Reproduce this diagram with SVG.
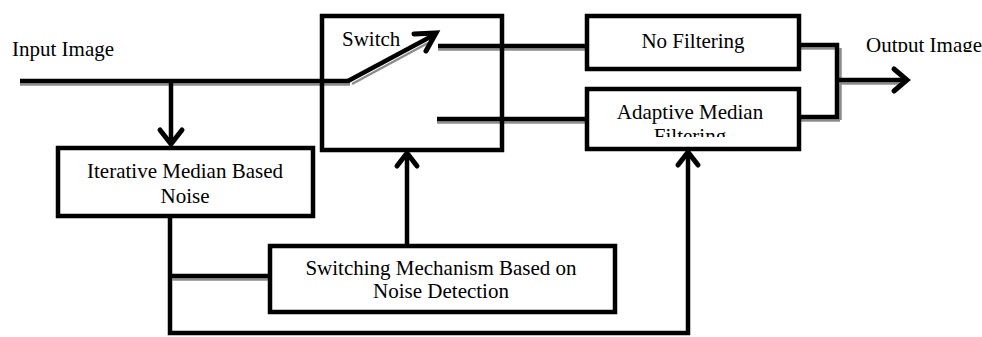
<svg xmlns="http://www.w3.org/2000/svg" width="982" height="337" viewBox="0 0 982 337">
<style>
  .box{fill:#fff;stroke:#000;stroke-width:4.5}
  .t{font-family:"Liberation Serif","Times New Roman",serif;font-size:21px;fill:#000}
  .c{stroke:#000;stroke-width:4.5;fill:none;stroke-linecap:butt}
  .sh{stroke:#8c8c8c;stroke-width:2.5;fill:none}
  .ah{stroke:#000;stroke-width:5;fill:none;stroke-linecap:round;stroke-linejoin:miter}
</style>
<defs>
  <clipPath id="clipAd"><rect x="587" y="90" width="210" height="47"/></clipPath>
  <clipPath id="clipOut"><rect x="860" y="30" width="122" height="22"/></clipPath>
</defs>
<g id="connectors">
  <!-- input line -->
  <line class="sh" x1="20" y1="84.5" x2="350" y2="84.5"/>
  <line class="c" x1="20" y1="81" x2="350" y2="81"/>
  <!-- switch lever -->
  <line class="sh" x1="352" y1="84" x2="428" y2="43"/>
  <line class="c" x1="348" y1="81" x2="432" y2="36"/>
  <polyline class="ah" points="414,34 436,33 426,51"/>
  <!-- down arrow to iterative -->
  <line class="c" x1="171" y1="82" x2="171" y2="144"/>
  <polyline class="ah" points="160,130 171,144 182,130"/>
  <!-- switch outputs -->
  <line class="sh" x1="438" y1="49.5" x2="585" y2="49.5"/>
  <line class="c" x1="438" y1="46" x2="585" y2="46"/>
  <line class="sh" x1="437" y1="122.5" x2="585" y2="122.5"/>
  <line class="c" x1="437" y1="119" x2="585" y2="119"/>
  <!-- outputs merge -->
  <line class="sh" x1="800" y1="48.5" x2="835" y2="48.5"/>
  <line class="sh" x1="800" y1="120.5" x2="840" y2="120.5"/>
  <line class="sh" x1="840.5" y1="48" x2="840.5" y2="120"/>
  <polyline class="c" points="799,45 837,45 837,117 799,117"/>
  <line class="sh" x1="839" y1="83.5" x2="900" y2="83.5"/>
  <line class="c" x1="837" y1="80" x2="905" y2="80"/>
  <polyline class="ah" points="894,69 907,80 894,91"/>
  <!-- iterative to bottom -->
  <polyline class="c" points="170,217 170,333 688,333 688,153"/>
  <polyline class="ah" points="678,165 688,152 698,165"/>
  <!-- branch to switching -->
  <line class="sh" x1="172" y1="279.5" x2="268" y2="279.5"/>
  <line class="c" x1="170" y1="276" x2="268" y2="276"/>
  <!-- switching to switch -->
  <line class="c" x1="407" y1="245" x2="407" y2="153"/>
  <polyline class="ah" points="397,166 407,153 417,166"/>
</g>
<g id="input-label">
  <text class="t" x="12" y="56">Input Image</text>
</g>
<g id="switch">
  <rect class="box" x="322" y="16" width="180" height="134" style="fill:none"/>
  <text class="t" x="342" y="46">Switch</text>
</g>
<g id="no-filtering">
  <rect class="box" x="587" y="16" width="212" height="53"/>
  <text class="t" x="693" y="48" text-anchor="middle">No Filtering</text>
</g>
<g id="adaptive-median">
  <rect class="box" x="587" y="89" width="212" height="60"/>
  <g clip-path="url(#clipAd)">
    <text class="t" x="690" y="119" text-anchor="middle">Adaptive Median</text>
    <text class="t" x="690" y="143" text-anchor="middle">Filtering</text>
  </g>
</g>
<g id="output-label">
  <g clip-path="url(#clipOut)">
    <text class="t" x="866" y="52">Output Image</text>
  </g>
</g>
<g id="iterative">
  <rect class="box" x="58" y="148" width="255" height="68"/>
  <text class="t" x="185" y="178" text-anchor="middle">Iterative Median Based</text>
  <text class="t" x="185" y="203" text-anchor="middle">Noise</text>
</g>
<g id="switching-mechanism">
  <rect class="box" x="270" y="246" width="345" height="66"/>
  <text class="t" x="441" y="275" text-anchor="middle">Switching Mechanism Based on</text>
  <text class="t" x="441" y="298" text-anchor="middle">Noise Detection</text>
</g>
</svg>
